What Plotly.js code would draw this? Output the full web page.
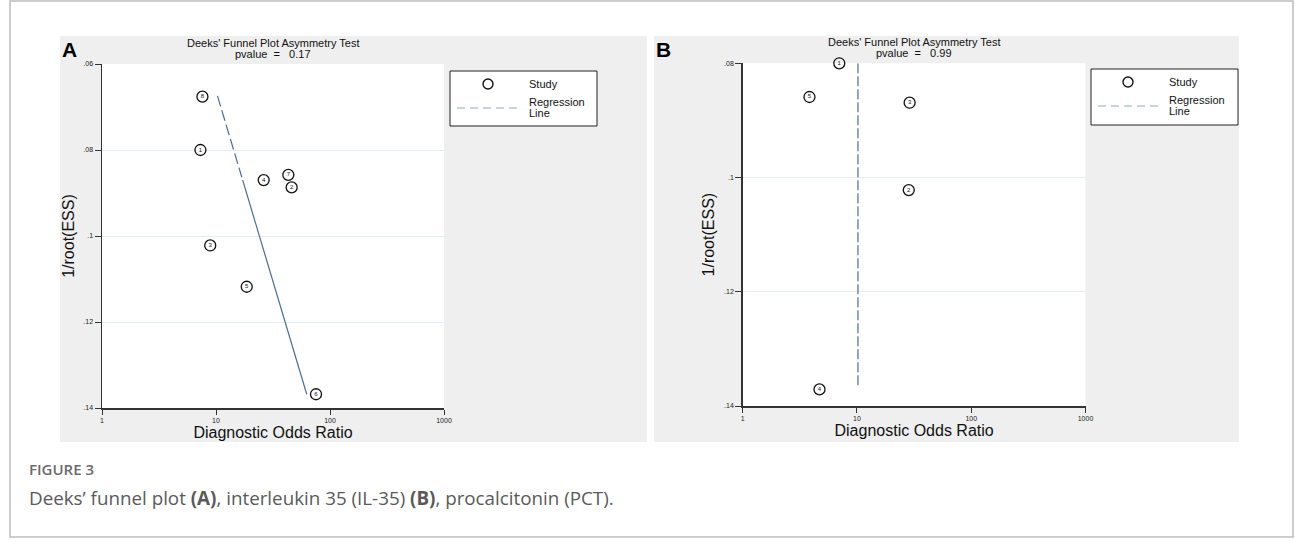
<!DOCTYPE html>
<html>
<head>
<meta charset="utf-8">
<script src="https://cdn.plot.ly/plotly-3.0.1.min.js"></script>
<style>
html,body{margin:0;padding:0;background:#fff;}
#chart{width:1295px;height:541px;}
</style>
</head>
<body>
<div id="chart"></div>
<script>
// ---- Panel A data (IL-35) ----
const studyA = ["8", "1", "4", "7", "2", "3", "5", "6"];
const dorA   = [7.6, 7.3, 26.2, 43.1, 46.1, 8.9, 18.6, 75.4];
const essA   = [0.0676, 0.0800, 0.0870, 0.0858, 0.0887, 0.1022, 0.1118, 0.1368];
const regXA  = [10.3, 62.5];
const regYA  = [0.0674, 0.1368];
const pvalA  = "0.17";

// ---- Panel B data (PCT) ----
const studyB = ["1", "5", "3", "2", "4"];
const dorB   = [7.0, 3.84, 28.9, 28.4, 4.7];
const essB   = [0.0800, 0.0859, 0.0869, 0.1022, 0.1371];
const regXB  = [10.2, 10.2];
const regYB  = [0.0800, 0.1367];
const pvalB  = "0.99";

// ---- tick labels ----
const xTickVals = [1, 10, 100, 1000];
const xTickText = ["1", "10", "100", "1000"];
const yTickValsA = [0.06, 0.08, 0.10, 0.12, 0.14];
const yTickTextA = [".06", ".08", ".1", ".12", ".14"];
const yTickValsB = [0.08, 0.10, 0.12, 0.14];
const yTickTextB = [".08", ".1", ".12", ".14"];

const W = 1295, H = 541;
const FONT = "Liberation Sans, Arial, sans-serif";
const CAPFONT = "'Open Sans', Lato, sans-serif";
const px = v => v / W;
const py = v => 1 - v / H;

const studyTrace = (x, y, t, xa, ya) => ({
  type: "scatter", mode: "markers+text", x: x, y: y, text: t,
  textposition: "middle center", xaxis: xa, yaxis: ya,
  textfont: {family: FONT, size: 6, color: "#111"},
  marker: {symbol: "circle-open", size: 11, color: "#111", line: {width: 1.3, color: "#111"}},
  showlegend: false, cliponaxis: false
});

const traces = [
  {type: "scatter", mode: "lines", x: regXA, y: regYA, xaxis: "x", yaxis: "y",
   line: {color: "#4a6d94", width: 1.2,
          dash: "11px,4px,11px,4px,11px,4px,11px,4px,11px,4px,10px,3px,600px"},
   showlegend: false},
  studyTrace(dorA, essA, studyA, "x", "y"),
  {type: "scatter", mode: "lines", x: regXB, y: regYB, xaxis: "x2", yaxis: "y2",
   line: {color: "#4a6d94", width: 1.2, dash: "10px,3px"}, showlegend: false},
  studyTrace(dorB, essB, studyB, "x2", "y2")
];

const xAxisBase = (dom) => ({
  type: "log", range: [0, 3], domain: dom,
  tickvals: xTickVals, ticktext: xTickText,
  ticks: "outside", ticklen: 5, tickwidth: 1, tickcolor: "#333",
  tickfont: {family: FONT, size: 7, color: "#222"},
  showline: true, linecolor: "#333", linewidth: 1.5,
  showgrid: false, zeroline: false, automargin: false,
  title: {text: "Diagnostic Odds Ratio", font: {family: FONT, size: 16, color: "#111"}, standoff: 2}
});
const yAxisBase = (dom, range, tv, tt, anchor) => ({
  range: range, domain: dom, anchor: anchor,
  tickvals: tv, ticktext: tt,
  ticks: "outside", ticklen: 6, tickwidth: 1, tickcolor: "#333",
  tickfont: {family: FONT, size: 7, color: "#222"},
  showline: true, linecolor: "#333", linewidth: 1.5,
  showgrid: true, gridcolor: "#e4edf3", gridwidth: 1,
  zeroline: false, automargin: false,
  title: {text: "1/root(ESS)", font: {family: FONT, size: 16, color: "#111"}, standoff: 5}
});

const shapes = [
  {type: "rect", xref: "paper", yref: "paper", x0: px(10), x1: px(1293), y0: py(537), y1: py(1),
   line: {color: "#bdbdbd", width: 1.5}, fillcolor: "rgba(0,0,0,0)", layer: "below"},
  {type: "rect", xref: "paper", yref: "paper", x0: px(60), x1: px(647), y0: py(442), y1: py(36),
   line: {width: 0}, fillcolor: "#efefef", layer: "below"},
  {type: "rect", xref: "paper", yref: "paper", x0: px(654), x1: px(1239), y0: py(442), y1: py(36),
   line: {width: 0}, fillcolor: "#efefef", layer: "below"},
  {type: "rect", xref: "paper", yref: "paper", x0: px(102), x1: px(444), y0: py(408), y1: py(64),
   line: {width: 0}, fillcolor: "#ffffff", layer: "below"},
  {type: "rect", xref: "paper", yref: "paper", x0: px(742.7), x1: px(1085.5), y0: py(406), y1: py(63.3),
   line: {width: 0}, fillcolor: "#ffffff", layer: "below"},
  // legend A
  {type: "rect", xref: "paper", yref: "paper", x0: px(450), x1: px(597), y0: py(126), y1: py(71),
   line: {color: "#222", width: 1}, fillcolor: "#ffffff"},
  {type: "circle", xref: "paper", yref: "paper", x0: px(483), x1: px(493), y0: py(89), y1: py(79),
   line: {color: "#111", width: 1.4}},
  {type: "line", xref: "paper", yref: "paper", x0: px(457), x1: px(518), y0: py(108), y1: py(108),
   line: {color: "#93aac3", width: 1.2, dash: "8px,5px"}},
  // legend B
  {type: "rect", xref: "paper", yref: "paper", x0: px(1091), x1: px(1238), y0: py(125), y1: py(69),
   line: {color: "#222", width: 1}, fillcolor: "#ffffff"},
  {type: "circle", xref: "paper", yref: "paper", x0: px(1123), x1: px(1133), y0: py(87), y1: py(77),
   line: {color: "#111", width: 1.4}},
  {type: "line", xref: "paper", yref: "paper", x0: px(1098), x1: px(1159), y0: py(106), y1: py(106),
   line: {color: "#93aac3", width: 1.2, dash: "8px,5px"}}
];

const ann = (x, y, text, size, opts) => Object.assign({
  xref: "paper", yref: "paper", x: px(x), y: py(y), text: text, showarrow: false,
  xanchor: "center", yanchor: "middle", font: {family: FONT, size: size, color: "#111"}
}, opts || {});

const SP = "\u00a0";
const annotations = [
  ann(60, 36, "<b>A</b>", 21, {xanchor: "left", yanchor: "top", font: {family: FONT, size: 21, color: "#000"}}),
  ann(654, 36, "<b>B</b>", 21, {xanchor: "left", yanchor: "top", font: {family: FONT, size: 21, color: "#000"}}),
  ann(273, 43, "Deeks' Funnel Plot Asymmetry Test", 11),
  ann(273, 54, "pvalue" + SP + SP + "=" + SP + SP + SP + pvalA, 11),
  ann(914, 42, "Deeks' Funnel Plot Asymmetry Test", 11),
  ann(914, 53, "pvalue" + SP + SP + "=" + SP + SP + SP + pvalB, 11),
  ann(527, 84, "Study", 11, {xanchor: "left"}),
  ann(527, 102, "Regression", 11, {xanchor: "left"}),
  ann(527, 113, "Line", 11, {xanchor: "left"}),
  ann(1167, 82, "Study", 11, {xanchor: "left"}),
  ann(1167, 100, "Regression", 11, {xanchor: "left"}),
  ann(1167, 111, "Line", 11, {xanchor: "left"}),
  ann(27, 469, "FIGURE 3", 15, {xanchor: "left", font: {family: CAPFONT, size: 15, color: "#6b6b6b", weight: 600}}),
  ann(27, 498, "Deeks\u2019 funnel plot <b>(A)</b>, interleukin 35 (IL-35) <b>(B)</b>, procalcitonin (PCT).", 18.8,
      {xanchor: "left", font: {family: CAPFONT, size: 18.8, color: "#5a5a5a"}})
];

const layout = {
  width: W, height: H,
  margin: {l: 0, r: 0, t: 0, b: 0},
  paper_bgcolor: "#ffffff", plot_bgcolor: "rgba(0,0,0,0)",
  showlegend: false,
  xaxis: Object.assign(xAxisBase([px(102), px(444)]), {anchor: "y"}),
  yaxis: yAxisBase([py(408), py(64)], [0.14, 0.06], yTickValsA, yTickTextA, "x"),
  xaxis2: Object.assign(xAxisBase([px(742.7), px(1085.5)]), {anchor: "y2"}),
  yaxis2: yAxisBase([py(406), py(63.3)], [0.14, 0.08], yTickValsB, yTickTextB, "x2"),
  shapes: shapes,
  annotations: annotations
};

Plotly.newPlot("chart", traces, layout, {staticPlot: true, displayModeBar: false});
</script>
</body>
</html>
